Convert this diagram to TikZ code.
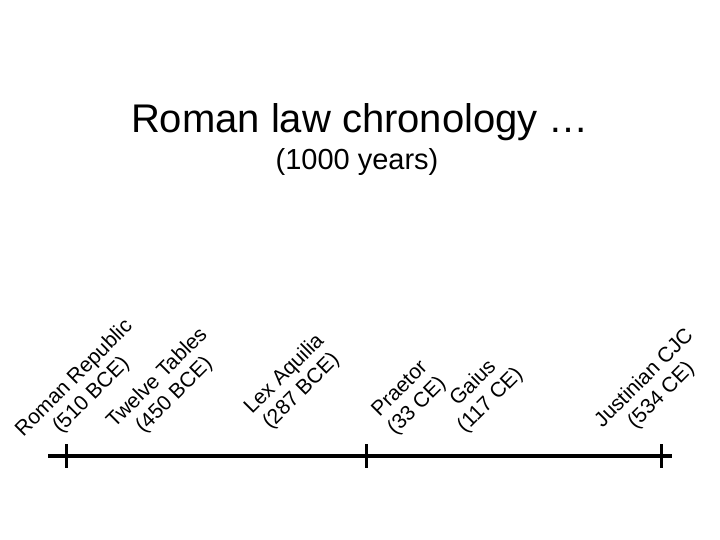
\documentclass[tikz,border=0pt]{standalone}
\usepackage{fontspec}
\setmainfont{Liberation Sans}
\usetikzlibrary{positioning}

\begin{document}
\begin{tikzpicture}[
  x=1pt, y=-1pt,
  every node/.style={align=center, inner sep=0pt},
  event/.style={rotate=45, font=\fontsize{21}{24}\selectfont},
  timeline/.style={draw, line width=4pt},
  tickmark/.style={draw, line width=3pt}
]
\useasboundingbox (0,0) rectangle (720,540);
\node[font=\fontsize{40}{44}\selectfont] (title) at (360,122) {Roman law chronology …};
\node[font=\fontsize{29}{32}\selectfont] (span) at (357,162) {(1000 years)};

% events
\node[event] (republic) at (83,387) {Roman Republic\\(510 BCE)};
\node[event] (tables) at (166,387) {Twelve Tables\\(450 BCE)};
\node[event] (aquilia) at (293,383) {Lex Aquilia\\(287 BCE)};
\node[event] (praetor) at (409,398) {Praetor\\(33 CE)};
\node[event] (gaius) at (482,392) {Gaius\\(117 CE)};
\node[event] (justinian) at (653,387) {Justinian CJC\\(534 CE)};

% axis
\coordinate (start) at (48,456);
\coordinate (end) at (672,456);
\coordinate (t1) at (66,456);
\coordinate (t2) at (366,456);
\coordinate (t3) at (661,456);
\draw[timeline] (start) -- (end);
\foreach \t in {t1,t2,t3}
  \draw[tickmark] ([yshift=12pt]\t) -- ([yshift=-12pt]\t);
\end{tikzpicture}
\end{document}
